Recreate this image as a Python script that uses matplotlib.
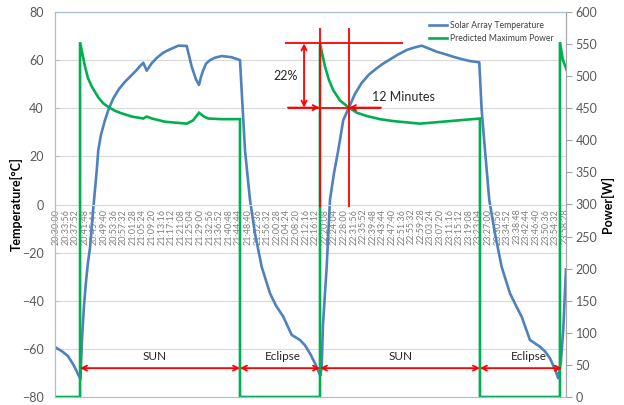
import matplotlib
matplotlib.use("Agg")
import matplotlib.pyplot as plt

plt.rcParams['font.family'] = ['Lato', 'DejaVu Sans']

# Time axis: minutes after 20:30:00
temp_time = [0.0, 2.46, 4.91, 7.37, 9.01, 10.03, 10.65, 11.47, 12.29, 13.11, 13.93,
             15.15, 16.67, 17.32, 18.43, 20.07, 21.71, 23.47, 25.80, 28.26, 30.72,
             33.05, 34.40, 35.76, 37.15, 39.20, 41.37, 43.95, 46.69, 50.09, 53.53,
             55.58, 57.34, 58.57, 59.39, 60.33, 61.43, 63.07, 65.12, 67.87, 71.96,
             75.36, 76.18, 77.41, 79.46, 81.50, 84.25, 87.65, 90.10, 93.09, 96.53,
             99.93, 101.98, 104.03, 106.08, 107.84, 108.33, 108.82, 109.35, 110.87,
             112.22, 113.86, 115.62, 117.67, 120.00, 122.46, 125.20, 128.19, 131.35,
             133.93, 136.80, 140.07, 143.64, 146.63, 149.78, 152.77, 155.92, 159.32,
             162.72, 165.88, 169.56, 173.37, 174.35, 175.71, 177.47, 179.80, 182.54,
             185.94, 188.40, 190.73, 194.13, 198.23, 200.28, 202.33, 204.37, 205.73,
             206.83, 207.77, 208.88]
temperature = [-59.5, -61.0, -63.0, -67.0, -70.5, -72.5, -56.0, -42.0, -32.0, -24.0, -18.0,
               -3.0, 14.0, 22.6, 29.0, 35.1, 40.0, 44.1, 48.0, 51.0, 53.5,
               55.9, 57.5, 58.9, 55.6, 58.7, 61.0, 63.1, 64.5, 66.0, 65.9,
               57.3, 52.0, 49.7, 53.0, 55.9, 58.5, 60.0, 61.0, 61.7, 61.2,
               60.0, 45.0, 22.6, 1.9, -12.0, -25.9, -36.9, -42.0, -46.6, -54.2,
               -56.3, -58.5, -61.9, -66.0, -70.2, -71.0, -67.4, -50.0, -25.9,
               1.9, 13.0, 22.6, 35.1, 40.3, 46.0, 50.5, 54.0, 56.6,
               58.5, 60.3, 62.3, 64.2, 65.2, 66.0, 64.8, 63.5, 62.5,
               61.4, 60.5, 59.6, 59.1, 39.3, 22.6, 1.9, -12.0, -25.9,
               -36.9, -42.0, -46.6, -56.3, -59.1, -61.0, -63.9, -68.5, -72.2,
               -65.0, -52.2, -27.0]

power_time = [0.0, 9.85, 9.85, 11.88, 13.10, 14.62, 17.32, 19.25, 21.42, 24.16, 26.91,
              31.13, 35.76, 37.15, 39.32, 44.64, 53.53, 56.11, 58.57, 60.62, 62.38,
              67.87, 75.36, 75.36, 108.13, 108.13, 110.18, 111.81, 113.58, 116.33,
              120.00, 123.26, 127.23, 132.68, 138.13, 149.08, 161.37, 173.65, 173.65,
              206.42, 206.42, 207.65, 209.16]
power = [0, 0, 553, 515, 497, 484, 467, 458, 452, 446, 442,
         437, 434, 437, 434, 429, 426, 431, 443, 437, 434,
         433, 433, 0, 0, 551, 515, 494, 478, 462,
         451, 443, 438, 433, 430, 426, 430, 434, 0,
         0, 553, 525, 510]

tick_labels = ['20:30:00', '20:33:56', '20:37:52', '20:41:48', '20:45:44', '20:49:40',
               '20:53:36', '20:57:32', '21:01:28', '21:05:24', '21:09:20', '21:13:16',
               '21:17:12', '21:21:08', '21:25:04', '21:29:00', '21:32:56', '21:36:52',
               '21:40:48', '21:44:44', '21:48:40', '21:52:36', '21:56:32', '22:00:28',
               '22:04:24', '22:08:20', '22:12:16', '22:16:12', '22:20:08', '22:24:04',
               '22:28:00', '22:31:56', '22:35:52', '22:39:48', '22:43:44', '22:47:40',
               '22:51:36', '22:55:32', '22:59:28', '23:03:24', '23:07:20', '23:11:16',
               '23:15:12', '23:19:08', '23:23:04', '23:27:00', '23:30:56', '23:34:52',
               '23:38:48', '23:42:44', '23:46:40', '23:50:36', '23:54:32', '23:58:28']

# Orbit phases (minutes) and the power-drop annotation
sun_periods = [(9.85, 75.36), (108.13, 173.65)]
eclipse_periods = [(75.36, 108.13), (173.65, 207.2)]
peak_power = 551
crossing_power = 451
crossing_start, crossing_end = 108.0, 120.0


def to_minutes(label):
    h, m, s = (int(v) for v in label.split(':'))
    return (h * 3600 + m * 60 + s - (20 * 3600 + 30 * 60)) / 60.0


tick_pos = [to_minutes(t) for t in tick_labels]

BLUE = '#4f81bd'
GREEN = '#00b050'
RED = '#ff0000'
GRAY = '#595959'
BORDER = '#a9bcd5'

fig = plt.figure(figsize=(6.24, 4.05), dpi=100)
ax = fig.add_axes([55 / 624, 8 / 405, 511 / 624, 385 / 405])
ax2 = ax.twinx()

ax.set_xlim(-0.41, 208.9)
ax.set_ylim(-80, 80)
ax2.set_ylim(0, 600)
ax.set_yticks(range(-80, 81, 20))
ax2.set_yticks(range(0, 601, 50))
ax.grid(axis='y', color='#d9d9d9', lw=0.8)
ax.set_axisbelow(True)

# Category axis crosses at 0 °C; the plot-area frame is kept by the twin axes
ax.spines['bottom'].set_position(('data', 0))
ax.spines['bottom'].set_color('#d9d9d9')
ax.spines['top'].set_color(BORDER)
ax.spines['left'].set_color(BORDER)
ax.spines['right'].set_color('#a6a6a6')
ax2.spines['bottom'].set_color(BORDER)
ax2.spines['top'].set_color(BORDER)
ax2.spines['left'].set_color(BORDER)
ax2.spines['right'].set_color('#a6a6a6')

ax.xaxis.set_ticks_position('bottom')
ax.set_xticks(tick_pos)
ax.set_xticklabels(tick_labels, fontsize=6.5, color='#7f7f7f')
for lab in ax.get_xticklabels():
    lab.set_rotation(90)
    lab.set_rotation_mode('anchor')
    lab.set_horizontalalignment('right')
    lab.set_verticalalignment('center')
ax.tick_params(axis='x', length=0, pad=3)

ax.tick_params(axis='y', labelsize=9, labelcolor=GRAY, color='#bfbfbf', length=3,
               direction='in', pad=8)
ax2.tick_params(axis='y', labelsize=9, labelcolor=GRAY, color='#a6a6a6', length=4, pad=3)

l1, = ax.plot(temp_time, temperature, color=BLUE, lw=1.9, label='Solar Array Temperature',
              solid_joinstyle='round')
l2, = ax2.plot(power_time, power, color=GREEN, lw=1.9, label='Predicted Maximum Power',
               solid_joinstyle='miter')

ax.set_ylabel('Temperature[°C]', fontsize=9, fontweight='bold', color='black')
ax.yaxis.set_label_coords(-0.0626, 0.5)
ax2.set_ylabel('Power[W]', fontsize=9, fontweight='bold', color='black')
ax2.yaxis.set_label_coords(1.0685, 0.5)

leg = ax2.legend(handles=[l1, l2], loc='upper right', bbox_to_anchor=(0.985, 0.99),
                 frameon=False, fontsize=6.2, handlelength=2.1, handletextpad=0.25,
                 labelspacing=0.5, borderaxespad=0.2)
for t in leg.get_texts():
    t.set_color('#404040')

arrow = dict(arrowstyle='<->', color=RED, lw=1.3, shrinkA=0, shrinkB=0, mutation_scale=9)
one_way = dict(arrowstyle='->', color=RED, lw=1.3, shrinkA=0, shrinkB=0, mutation_scale=9)

# Power drop after sunrise
ax2.vlines([crossing_start, crossing_end], 296, 575, color=RED, lw=1.3)
ax2.hlines(peak_power, 93.8, 142.1, color=RED, lw=1.3)
ax2.hlines(crossing_power, 95.0, 133.1, color=RED, lw=1.3)
ax2.annotate('', xy=(101.6, peak_power), xytext=(101.6, crossing_power), arrowprops=arrow)
ax2.annotate('', xy=(crossing_start, crossing_power), xytext=(95.0, crossing_power),
             arrowprops=one_way)
ax2.annotate('', xy=(crossing_end, crossing_power), xytext=(133.1, crossing_power),
             arrowprops=one_way)
ax2.text(94.2, 500, '22%', fontsize=9, color='#262626', ha='center', va='center')
ax2.text(142.2, 467, '12 Minutes', fontsize=9, color='#262626', ha='center', va='center')

# Sun / eclipse phases
for (a, b) in sun_periods + eclipse_periods:
    ax2.annotate('', xy=(b, 45), xytext=(a, 45), arrowprops=arrow)
for x, label in [(40.5, 'SUN'), (93.1, 'Eclipse'), (141.2, 'SUN'), (193.6, 'Eclipse')]:
    ax2.text(x, 63, label, fontsize=8.5, color='#262626', ha='center', va='center')

fig.savefig('out.png', dpi=100)
